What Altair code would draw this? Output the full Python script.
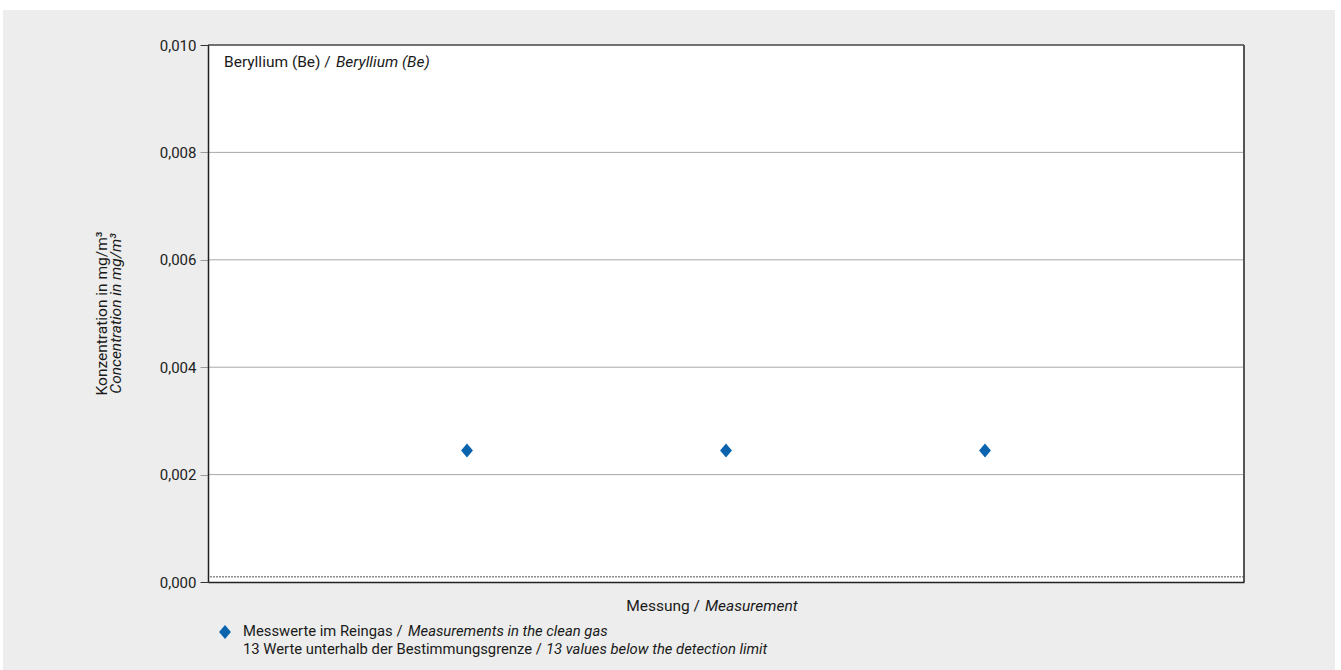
import altair as alt
import pandas as pd

# Measurement values (mg/m³) above the detection limit
measurement_no = [1, 2, 3]
concentration = [0.00245, 0.00245, 0.00245]
detection_limit = 0.0001
y_ticks = [0.0, 0.002, 0.004, 0.006, 0.008, 0.010]
grid_values = [0.002, 0.004, 0.006, 0.008]

FONT = "Roboto"
FS = 15.5
FS_LEGEND = 14.8
BLUE = "#0A64AD"
W, H = 1036, 537

points = pd.DataFrame({"n": measurement_no, "c": concentration})
grid = pd.DataFrame({"c": grid_values})
one = pd.DataFrame({"k": [0]})

xs = alt.Scale(domain=[0, 4], nice=False, zero=False)
ys = alt.Scale(domain=[0, 0.01], nice=False)

# Grey panel behind everything, white plotting area on top of it
panel = alt.Chart(one).mark_rect(color="#ECEDEC", clip=False).encode(
    x=alt.value(-205), x2=alt.value(1127), y=alt.value(-35), y2=alt.value(625)
)
plot_bg = alt.Chart(one).mark_rect(color="white").encode(
    x=alt.value(0), x2=alt.value(W), y=alt.value(0), y2=alt.value(H)
)

grid_rules = alt.Chart(grid).mark_rule(color="#A8A8A8", strokeWidth=1).encode(
    y=alt.Y("c:Q", scale=ys)
)

limit_rule = alt.Chart(pd.DataFrame({"c": [detection_limit]})).mark_rule(
    color="#8C8C8C", strokeWidth=1.5, strokeDash=[2, 1]
).encode(y=alt.Y("c:Q", scale=ys))

top_frame = alt.Chart(pd.DataFrame({"c": [0.01]})).mark_rule(
    color="#444444", strokeWidth=1.5
).encode(y=alt.Y("c:Q", scale=ys))
right_frame = alt.Chart(pd.DataFrame({"n": [4]})).mark_rule(
    color="#555555", strokeWidth=2
).encode(x=alt.X("n:Q", scale=xs))

diamond = "M-0.85,0L0,-1L0.85,0L0,1Z"

pts = alt.Chart(points).mark_point(
    shape=diamond, size=196, filled=True, color=BLUE, opacity=1
).encode(
    x=alt.X(
        "n:Q", scale=xs,
        axis=alt.Axis(
            title=None, labels=False, ticks=False, grid=False,
            domainColor="#222222", domainWidth=1.5, zindex=1,
        ),
    ),
    y=alt.Y(
        "c:Q", scale=ys,
        axis=alt.Axis(
            title=None, values=y_ticks, grid=False,
            labelExpr="replace(format(datum.value, '.3f'), '.', ',')",
            labelFont=FONT, labelFontSize=15, labelColor="#222222",
            labelPadding=4, tickSize=8, tickWidth=1,
            tickColor=alt.condition(
                "datum.value == 0 || datum.value == 0.01",
                alt.value("#333333"), alt.value("#9A9A9A"),
            ),
            domainColor="#222222", domainWidth=1.5, zindex=1,
        ),
    ),
)


def txt(s, x, y, italic=False, align="left", angle=0, size=FS):
    return alt.Chart(one).mark_text(
        text=s, font=FONT, fontSize=size, color="#1A1A1A",
        fontStyle="italic" if italic else "normal",
        align=align, baseline="middle", angle=angle, clip=False,
    ).encode(x=alt.value(x), y=alt.value(y))


texts = [
    # element label inside the plot
    txt("Beryllium (Be) /", 16, 17),
    txt("Beryllium (Be)", 128, 17, italic=True),
    # y axis title, two rotated lines
    txt("Konzentration in mg/m³", -106, H / 2, align="center", angle=270),
    txt("Concentration in mg/m³", -92, H / 2, italic=True, align="center", angle=270),
    # x axis title
    txt("Messung /", 492, 561, align="right"),
    txt("Measurement", 497, 561, italic=True),
    # legend
    txt("Messwerte im Reingas /", 35, 587, size=FS_LEGEND),
    txt("Measurements in the clean gas", 200, 587, italic=True, size=FS_LEGEND),
    txt("13 Werte unterhalb der Bestimmungsgrenze /", 35, 605, size=FS_LEGEND),
    txt("13 values below the detection limit", 338, 605, italic=True, size=FS_LEGEND),
]

legend_mark = alt.Chart(one).mark_point(
    shape=diamond, size=196, filled=True, color=BLUE, opacity=1, clip=False
).encode(x=alt.value(17), y=alt.value(587))

chart = alt.layer(
    panel, plot_bg, grid_rules, limit_rule, top_frame, right_frame, pts,
    legend_mark, *texts,
).properties(
    width=W, height=H,
    autosize=alt.AutoSizeParams(type="none"),
    padding={"left": 208, "top": 45, "right": 97, "bottom": 88},
    background="white",
).configure_view(stroke=None)

chart.save("out.html", embed_options={"renderer": "svg", "actions": False})
